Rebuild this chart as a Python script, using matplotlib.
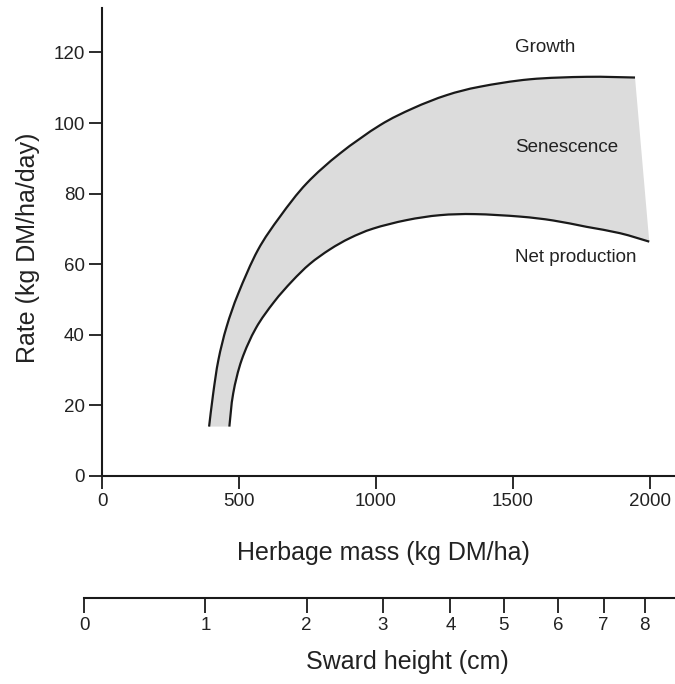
import matplotlib.pyplot as plt
from matplotlib.path import Path
from matplotlib.patches import PathPatch

# Herbage mass (kg DM/ha) and rates (kg DM/ha/day)
growth_x = [391, 406, 425, 455, 498, 569, 650, 747, 869, 1015, 1136, 1258,
            1380, 1562, 1769, 1946]
growth_y = [14.0, 23.4, 32.9, 42.3, 51.8, 64.0, 73.5, 82.9, 91.4, 99.4, 104.2,
            107.9, 110.3, 112.4, 113.1, 112.9]

net_x = [465, 479, 510, 562, 628, 694, 759, 832, 905, 990, 1112, 1234, 1362,
         1526, 1647, 1769, 1891, 1998]
net_y = [14.0, 23.4, 32.9, 41.9, 49.3, 55.2, 60.1, 64.2, 67.4, 70.1, 72.5,
         73.9, 74.2, 73.5, 72.4, 70.6, 68.8, 66.4]

# Sward height scale, tick positions in herbage-mass units
sward_labels = ['0', '1', '2', '3', '4', '5', '6', '7', '8']
sward_pos = [-66, 377, 747, 1024, 1272, 1467, 1666, 1831, 1981]

xticks = [0, 500, 1000, 1500, 2000]
yticks = [0, 20, 40, 60, 80, 100, 120]

font = ['Liberation Sans', 'DejaVu Sans']
ink = '#1a1a1a'
txt = '#222222'


def smooth(xs, ys):
    # catmull-rom curve through the read points, as cubic bezier segments
    p = list(zip(xs, ys))
    verts = [p[0]]
    codes = [Path.MOVETO]
    n = len(p)
    for i in range(n - 1):
        a = p[max(i - 1, 0)]
        b, c = p[i], p[i + 1]
        d = p[min(i + 2, n - 1)]
        c1 = (b[0] + (c[0] - a[0]) / 6, b[1] + (c[1] - a[1]) / 6)
        c2 = (c[0] - (d[0] - b[0]) / 6, c[1] - (d[1] - b[1]) / 6)
        verts += [c1, c2, c]
        codes += [Path.CURVE4] * 3
    return verts, codes


fig = plt.figure(figsize=(6.75, 6.84), dpi=100)
ax = fig.add_axes([102 / 675, 1 - 476 / 684, 1 - 102 / 675, 468 / 684])

gv, gc = smooth(growth_x, growth_y)
nv, nc = smooth(net_x[::-1], net_y[::-1])
band = Path(gv + nv + [gv[0]], gc + [Path.LINETO] + nc[1:] + [Path.CLOSEPOLY])
ax.add_patch(PathPatch(band, facecolor='#dcdcdc', edgecolor='none', lw=0))
ax.add_patch(PathPatch(Path(gv, gc), facecolor='none', edgecolor=ink, lw=1.6))
nv2, nc2 = smooth(net_x, net_y)
ax.add_patch(PathPatch(Path(nv2, nc2), facecolor='none', edgecolor=ink, lw=1.6))

ax.set_xlim(0, 2092)
ax.set_ylim(0, 132.6)
ax.set_xticks(xticks)
ax.set_yticks(yticks)
for s in ['top', 'right']:
    ax.spines[s].set_visible(False)
for s in ['left', 'bottom']:
    ax.spines[s].set_linewidth(1.5)
    ax.spines[s].set_color(ink)
ax.tick_params(length=9.5, width=1.3, color=ink, labelsize=13.5, pad=3)
for lab in ax.get_xticklabels() + ax.get_yticklabels():
    lab.set_family(font)
    lab.set_color(txt)

ax.text(1508, 121.5, 'Growth', family=font, fontsize=13.5, va='center', color=txt)
ax.text(1508, 93.1, 'Senescence', family=font, fontsize=13.5, va='center', color=txt)
ax.text(1508, 61.9, 'Net production', family=font, fontsize=13.5, va='center', color=txt)

fig.text(28 / 675, 1 - 248 / 684, 'Rate (kg DM/ha/day)', family=font, fontsize=18,
         rotation=90, ha='center', va='center', color=txt)
fig.text(383 / 675, 1 - 553 / 684, 'Herbage mass (kg DM/ha)', family=font, fontsize=18,
         ha='center', va='center', color=txt)

# second scale: sward height
ax2 = fig.add_axes([84 / 675, 1 - 598 / 684, 1 - 84 / 675, 0.01])
ax2.set_xlim(sward_pos[0], 2092)
ax2.set_ylim(0, 1)
ax2.set_yticks([])
ax2.patch.set_visible(False)
for s in ['top', 'right', 'left']:
    ax2.spines[s].set_visible(False)
ax2.spines['bottom'].set_linewidth(1.5)
ax2.spines['bottom'].set_color(ink)
ax2.set_xticks(sward_pos)
ax2.set_xticklabels(sward_labels)
ax2.tick_params(axis='x', length=11, width=1.3, color=ink, labelsize=13.5, pad=3)
for lab in ax2.get_xticklabels():
    lab.set_family(font)
    lab.set_color(txt)

fig.text(407 / 675, 1 - 662 / 684, 'Sward height (cm)', family=font, fontsize=18,
         ha='center', va='center', color=txt)

fig.savefig('out.png', dpi=100)
